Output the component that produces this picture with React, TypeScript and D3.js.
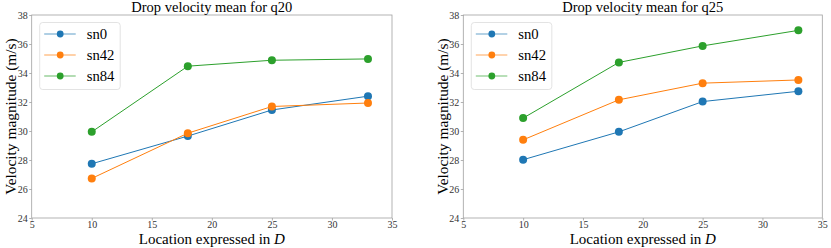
import React, { useEffect, useRef } from "react";
import * as d3 from "d3";

const locations = [10, 18, 25, 33];
const seriesNames = ["sn0", "sn42", "sn84"];
const colors = ["#1f77b4", "#ff7f0e", "#2ca02c"];

const q20sn0 = [27.74, 29.65, 31.45, 32.4];
const q20sn42 = [26.73, 29.85, 31.69, 31.93];
const q20sn84 = [29.94, 34.47, 34.88, 34.97];

const q25sn0 = [28.02, 29.94, 32.03, 32.74];
const q25sn42 = [29.39, 32.15, 33.3, 33.52];
const q25sn84 = [30.89, 34.73, 35.87, 36.94];

const xTicks = [5, 10, 15, 20, 25, 30, 35];
const yTicks = [24, 26, 28, 30, 32, 34, 36, 38];

const panels = [
  { title: "Drop velocity mean for q20", series: [q20sn0, q20sn42, q20sn84], left: 31.7, right: 392 },
  { title: "Drop velocity mean for q25", series: [q25sn0, q25sn42, q25sn84], left: 463.3, right: 822.3 },
];

const FONT = "'Liberation Serif', serif";

export default function App() {
  const svgRef = useRef<SVGSVGElement | null>(null);

  useEffect(() => {
    if (!svgRef.current) return;
    const svg = d3.select(svgRef.current);
    svg.selectAll("*").remove();

    const top = 15;
    const bottom = 218;

    panels.forEach((p) => {
      const x = d3.scaleLinear().domain([5, 35]).range([p.left, p.right]);
      const y = d3.scaleLinear().domain([24, 38]).range([bottom, top]);
      const g = svg.append("g");

      // frame
      g.append("rect")
        .attr("x", p.left)
        .attr("y", top)
        .attr("width", p.right - p.left)
        .attr("height", bottom - top)
        .attr("fill", "none")
        .attr("stroke", "#a0a0a0")
        .attr("stroke-width", 0.8);

      const xAxis = g
        .append("g")
        .attr("transform", `translate(0,${bottom})`)
        .call(d3.axisBottom(x).tickValues(xTicks).tickSize(2.5).tickPadding(0.5));
      const yAxis = g
        .append("g")
        .attr("transform", `translate(${p.left},0)`)
        .call(d3.axisLeft(y).tickValues(yTicks).tickSize(2.5).tickPadding(1.5));

      [xAxis, yAxis].forEach((a) => {
        a.select(".domain").remove();
        a.selectAll("line").attr("stroke", "#a0a0a0").attr("stroke-width", 0.8);
        a.selectAll("text")
          .attr("fill", "#333")
          .style("font-family", FONT)
          .style("font-size", "10px");
      });

      g.append("text")
        .attr("x", (p.left + p.right) / 2)
        .attr("y", 11.5)
        .attr("text-anchor", "middle")
        .style("font-family", FONT)
        .style("font-size", "14.5px")
        .text(p.title);

      const xl = g
        .append("text")
        .attr("x", (p.left + p.right) / 2)
        .attr("y", 244)
        .attr("text-anchor", "middle")
        .style("font-family", FONT)
        .style("font-size", "15px");
      xl.append("tspan").text("Location expressed in ");
      xl.append("tspan").style("font-style", "italic").text("D");

      g.append("text")
        .attr("transform", `translate(${p.left - 15.5},${(top + bottom) / 2}) rotate(-90)`)
        .attr("text-anchor", "middle")
        .style("font-family", FONT)
        .style("font-size", "15.4px")
        .text("Velocity magnitude (m/s)");

      const line = d3
        .line<number>()
        .x((_, i) => x(locations[i]))
        .y((d) => y(d));

      p.series.forEach((vals, si) => {
        g.append("path")
          .datum(vals)
          .attr("fill", "none")
          .attr("stroke", colors[si])
          .attr("stroke-width", 1)
          .attr("d", line);
        g.selectAll(null)
          .data(vals)
          .enter()
          .append("circle")
          .attr("cx", (_, i) => x(locations[i]))
          .attr("cy", (d) => y(d))
          .attr("r", 4)
          .attr("fill", colors[si]);
      });

      // legend
      const lx = p.left + 8;
      const ly = top + 7.5;
      g.append("rect")
        .attr("x", lx)
        .attr("y", ly)
        .attr("width", 80.5)
        .attr("height", 67)
        .attr("rx", 3)
        .attr("fill", "white")
        .attr("fill-opacity", 0.8)
        .attr("stroke", "#dcdcdc")
        .attr("stroke-width", 0.8);
      seriesNames.forEach((name, si) => {
        const cy = ly + 11.5 + si * 21;
        g.append("line")
          .attr("x1", lx + 4.5)
          .attr("x2", lx + 36)
          .attr("y1", cy)
          .attr("y2", cy)
          .attr("stroke", colors[si])
          .attr("stroke-opacity", 0.45)
          .attr("stroke-width", 1.6);
        g.append("circle")
          .attr("cx", lx + 20.5)
          .attr("cy", cy)
          .attr("r", 3.4)
          .attr("fill", colors[si]);
        g.append("text")
          .attr("x", lx + 47)
          .attr("y", cy + 4.5)
          .style("font-family", FONT)
          .style("font-size", "14.7px")
          .text(name);
      });
    });
  }, []);

  return (
    <div style={{ position: "absolute", left: 0, top: 0 }}>
      <svg ref={svgRef} width={831} height={248} style={{ display: "block", background: "white" }} />
    </div>
  );
}
